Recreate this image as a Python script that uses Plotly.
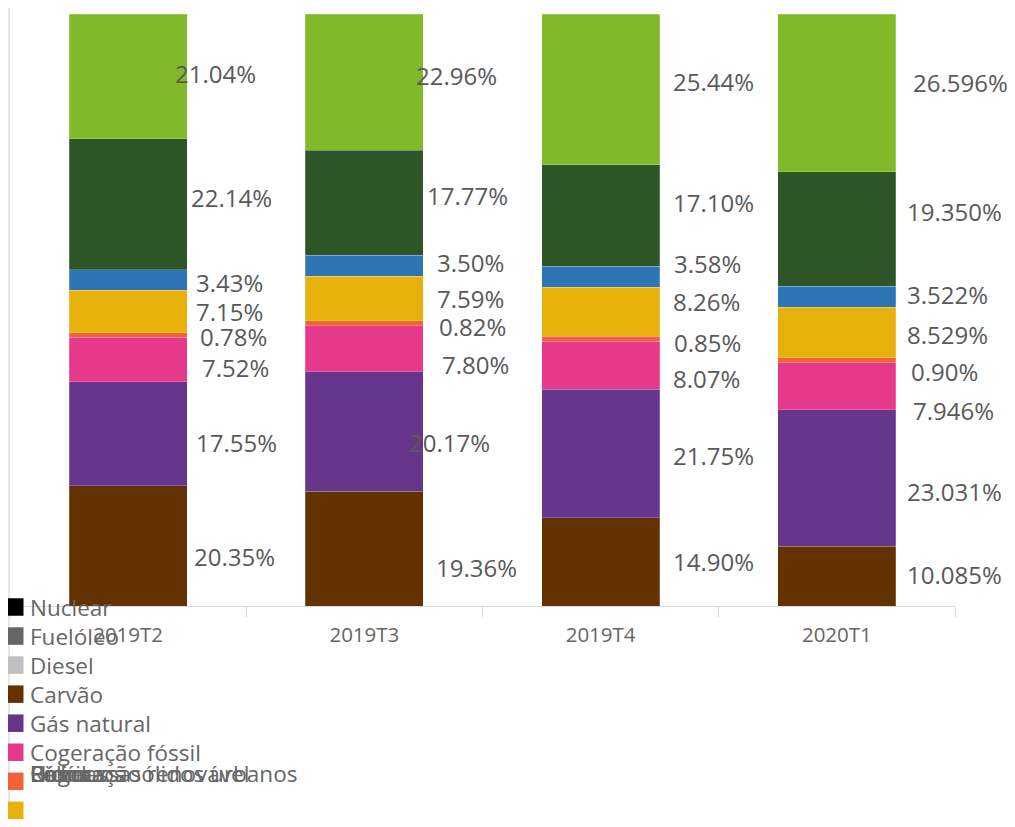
import plotly.graph_objects as go

# ---------------- data ----------------
categories = ["2019T2", "2019T3", "2019T4", "2020T1"]

series_names = ["Carvão", "Gás natural", "Cogeração fóssil", "Resíduos sólidos urbanos",
                "Cogeração renovável", "Biomassa", "Hídrica", "Eólica"]

carvao = [20.35, 19.36, 14.90, 10.085]
gas_natural = [17.55, 20.17, 21.75, 23.031]
cogeracao_fossil = [7.52, 7.80, 8.07, 7.946]
residuos = [0.78, 0.82, 0.85, 0.90]
cogeracao_renovavel = [7.15, 7.59, 8.26, 8.529]
biomassa = [3.43, 3.50, 3.58, 3.522]
hidrica = [22.14, 17.77, 17.10, 19.350]
eolica = [21.04, 22.96, 25.44, 26.596]

series_values = [carvao, gas_natural, cogeracao_fossil, residuos,
                 cogeracao_renovavel, biomassa, hidrica, eolica]

# decimals shown on each label (per category, per series bottom->top)
label_decimals = [
    [2, 2, 2, 2, 2, 2, 2, 2],
    [2, 2, 2, 2, 2, 2, 2, 2],
    [2, 2, 2, 2, 2, 2, 2, 2],
    [3, 3, 3, 2, 3, 3, 3, 3],
]

legend_names = ["Nuclear", "Fuelóleo", "Diesel", "Carvão", "Gás natural", "Cogeração fóssil",
                "Resíduos sólidos urbanos", "Cogeração renovável", "Biomassa", "Hídrica", "Eólica"]

# ---------------- styles ----------------
series_colors = ["#633200", "#66358C", "#E6398B", "#EE6436",
                 "#E8B00A", "#2E75B6", "#2D5528", "#80B92A"]
legend_colors = ["#000000", "#666666", "#BFBFBF"] + series_colors

# label pixel offsets (x from category centre, y downward from segment middle)
label_dx = [
    [66, 68, 74, 72, 68, 68, 63, 47],
    [72, 45, 78, 75, 73, 73, 63, 52],
    [72, 72, 72, 73, 72, 73, 72, 72],
    [70, 70, 76, 74, 70, 70, 70, 76],
]
label_dy = [
    [11, 9, 8, 2, 0, 2, -7, -3],
    [19, 11, 16, 3, 0, -3, -7, -7],
    [0, 2, 13, 4, -10, -13, -13, -8],
    [-2, 13, 24, 11, 2, -2, -17, -10],
]

OFF = 8                      # page body margin of the html output
PAGE_W, PAGE_H = 1015, 827
W, H = PAGE_W - 2 * OFF, PAGE_H - 2 * OFF
PLOT_L, PLOT_R, PLOT_T, PLOT_B = 10, 955, 14, 606   # in page pixels
ML, MR, MT, MB = PLOT_L - OFF, W - (PLOT_R - OFF), PLOT_T - OFF, H - (PLOT_B - OFF)
PW, PH = W - ML - MR, H - MT - MB
FONT = "Open Sans, Segoe UI, sans-serif"


def px_x(px):
    return (px - OFF - ML) / PW


def px_y(py):
    return (H - MB - (py - OFF)) / PH


fig = go.Figure()
for name, vals, col in zip(series_names, series_values, series_colors):
    fig.add_trace(go.Bar(
        x=categories, y=vals, name=name, width=0.5,
        marker=dict(color=col, line=dict(width=0.6, color="rgba(255,255,255,0.35)")),
        showlegend=False,
    ))

annotations = []
for ci, cat in enumerate(categories):
    cum = 0.0
    for si, vals in enumerate(series_values):
        v = vals[ci]
        mid = cum + v / 2
        cum += v
        d = label_decimals[ci][si]
        annotations.append(dict(
            x=cat, y=mid, xref="x", yref="y",
            text=f"{v:.{d}f}%", showarrow=False,
            xanchor="left", yanchor="middle",
            xshift=label_dx[ci][si] - 2, yshift=-label_dy[ci][si],
            font=dict(family=FONT, size=24, color="#595959"),
        ))

# manual legend (clipped / overlapping as in the reference)
shapes = []
row0, row_step, sw = 607, 29.05, 17.5
for i, (nm, col) in enumerate(zip(legend_names, legend_colors)):
    cy = row0 + row_step * i
    ty = cy if i < 6 else row0 + row_step * 6 - 8
    if cy - sw / 2 < PAGE_H - OFF:
        shapes.append(dict(type="rect", xref="paper", yref="paper",
                           x0=px_x(6), x1=px_x(6 + sw), y0=px_y(cy - sw / 2), y1=px_y(cy + sw / 2),
                           fillcolor=col, line=dict(width=0), layer="above"))
    annotations.append(dict(
        x=px_x(28), y=px_y(ty), xref="paper", yref="paper", text=nm, showarrow=False,
        xanchor="left", yanchor="middle",
        font=dict(family=FONT, size=22.5, color="#666666"),
    ))

# left border line of the visual
shapes.append(dict(type="line", xref="paper", yref="paper",
                   x0=px_x(9), x1=px_x(9), y0=px_y(PAGE_H + 5), y1=px_y(-5),
                   line=dict(color="#E6E6E6", width=2), layer="below"))

fig.update_layout(
    width=W, height=H,
    margin=dict(l=ML, r=MR, t=MT, b=MB, pad=0),
    barmode="stack",
    plot_bgcolor="white", paper_bgcolor="white",
    showlegend=False,
    annotations=annotations, shapes=shapes,
    xaxis=dict(
        range=[-0.5, len(categories) - 0.5], autorange=False,
        showline=True, linecolor="#D9D9D9", linewidth=1,
        ticks="outside", tickson="boundaries", ticklen=10, tickcolor="#D9D9D9",
        showgrid=False, ticklabelstandoff=10,
        tickfont=dict(family=FONT, size=20.5, color="#666666"),
    ),
    yaxis=dict(range=[0, 100], autorange=False, visible=False, showgrid=False, zeroline=False),
)

fig.write_html("out.html")
